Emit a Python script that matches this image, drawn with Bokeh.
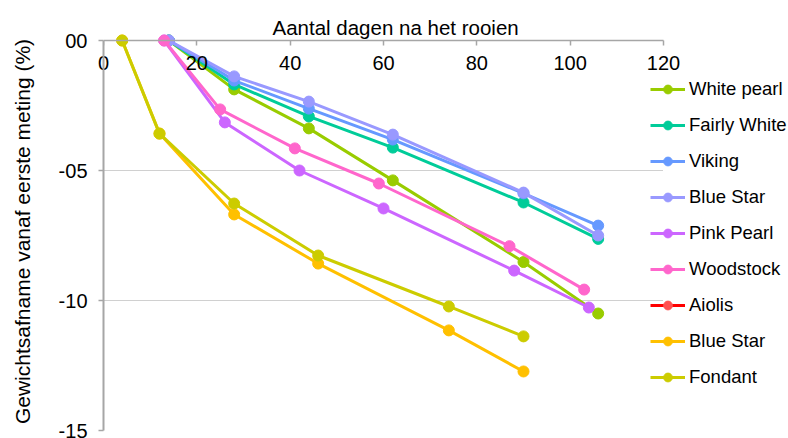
import numpy as np
from bokeh.plotting import figure
from bokeh.models import (Range1d, FixedTicker, Legend, LegendItem, ColumnDataSource,
                          LinearAxis, Title)
from bokeh.embed import file_html
from bokeh.resources import INLINE

# ---- data ----
x_ticks = [0, 20, 40, 60, 80, 100, 120]
y_ticks = [-15, -10, -5, 0]
y_tick_labels = ["-15", "-10", "-05", "00"]

series_names = ["White pearl", "Fairly White", "Viking", "Blue Star", "Pink Pearl",
                "Woodstock", "Aiolis", "Blue Star", "Fondant"]
line_colors = ["#99CC00", "#00CC99", "#6699FF", "#9999FF", "#CC66FF",
               "#FF66CC", "#FF0000", "#FFC000", "#CCCC00"]
marker_colors = ["#99CC00", "#00CC99", "#6699FF", "#9999FF", "#CC66FF",
                 "#FF66CC", "#FF5050", "#FFC000", "#CCCC00"]

days_white_pearl = [14, 28, 44, 62, 90, 106]
loss_white_pearl = [0, -1.88, -3.38, -5.38, -8.52, -10.5]
days_fairly_white = [14, 28, 44, 62, 90, 106]
loss_fairly_white = [0, -1.69, -2.92, -4.12, -6.23, -7.63]
days_viking = [14, 28, 44, 62, 90, 106]
loss_viking = [0, -1.54, -2.62, -3.81, -5.88, -7.12]
days_blue_star_1 = [14, 28, 44, 62, 90, 106]
loss_blue_star_1 = [0, -1.38, -2.35, -3.62, -5.85, -7.5]
days_pink_pearl = [13, 26, 42, 60, 88, 104]
loss_pink_pearl = [0, -3.15, -5.0, -6.46, -8.85, -10.27]
days_woodstock = [13, 25, 41, 59, 87, 103]
loss_woodstock = [0, -2.65, -4.15, -5.5, -7.91, -9.58]
days_aiolis = [np.nan]      # no measurements shown (legend entry only)
loss_aiolis = [np.nan]
days_blue_star_2 = [4, 12, 28, 46, 74, 90]
loss_blue_star_2 = [0, -3.58, -6.69, -8.58, -11.15, -12.73]
days_fondant = [4, 12, 28, 46, 74, 90]
loss_fondant = [0, -3.58, -6.27, -8.27, -10.23, -11.38]

all_days = [days_white_pearl, days_fairly_white, days_viking, days_blue_star_1,
            days_pink_pearl, days_woodstock, days_aiolis, days_blue_star_2, days_fondant]
all_loss = [loss_white_pearl, loss_fairly_white, loss_viking, loss_blue_star_1,
            loss_pink_pearl, loss_woodstock, loss_aiolis, loss_blue_star_2, loss_fondant]

FONT = "Liberation Sans"
TEXT = "#000000"
AXIS = "#A6A6A6"

X_MAX = 120
PX_PER_DAY = 560 / 120          # plot area 0..120 spans 560 px
x_end = X_MAX + 125 / PX_PER_DAY  # frame continues under the legend

p = figure(width=788, height=438, output_backend="svg", toolbar_location=None,
           x_range=Range1d(0, x_end), y_range=Range1d(-15, 0.3077),
           x_axis_location="above",
           min_border_left=103, min_border_right=0,
           min_border_top=32, min_border_bottom=8)
p.outline_line_color = None
p.background_fill_color = "white"
p.border_fill_color = "white"

# axis carrying tick labels (drawn below its line)
xa = p.xaxis[0]
xa.ticker = FixedTicker(ticks=x_ticks)
xa.bounds = (0, X_MAX)
xa.axis_line_color = None
xa.major_tick_line_color = None
xa.minor_tick_line_color = None
xa.major_tick_in = 0
xa.major_tick_out = 0
xa.major_label_standoff = -50
xa.major_label_text_font = FONT
xa.major_label_text_font_size = "20px"
xa.major_label_text_color = TEXT

# axis line and inward ticks at y = 0
xa0 = LinearAxis(fixed_location=0, ticker=FixedTicker(ticks=x_ticks), bounds=(0, X_MAX),
                 axis_line_color=AXIS, axis_line_width=1.5,
                 major_tick_line_color=AXIS, major_tick_line_width=1.5,
                 major_tick_in=5, major_tick_out=0, minor_tick_line_color=None,
                 major_label_standoff=0, major_label_text_font_size="0px",
                 major_label_text_alpha=0)

x_title = Title(text="Aantal dagen na het rooien", align="left", offset=169,
                standoff=-12, text_font=FONT, text_font_size="20.5px",
                text_font_style="normal", text_color=TEXT)

p.add_layout(xa0, "above")
p.above = [x_title] + list(p.above)

ya = p.yaxis[0]
ya.ticker = FixedTicker(ticks=y_ticks)
ya.major_label_overrides = {t: l for t, l in zip(y_ticks, y_tick_labels)}
ya.bounds = (-15, 0)
ya.major_tick_in = 0
ya.major_tick_out = 5
ya.minor_tick_line_color = None
ya.axis_line_color = AXIS
ya.axis_line_width = 2
ya.major_tick_line_color = AXIS
ya.major_tick_line_width = 1.5
ya.major_label_standoff = 11
ya.major_label_text_font = FONT
ya.major_label_text_font_size = "20px"
ya.major_label_text_color = TEXT
ya.axis_label = "Gewichtsafname vanaf eerste meting (%)"
ya.axis_label_standoff = 22
ya.axis_label_text_font = FONT
ya.axis_label_text_font_size = "21px"
ya.axis_label_text_font_style = "normal"
ya.axis_label_text_color = TEXT

p.xgrid.visible = False
g = p.ygrid[0]
g.ticker = FixedTicker(ticks=[-15, -10, -5])
g.grid_line_color = "#A0A0A0"
g.grid_line_dash = "1 1"
g.grid_line_width = 1
if "cross_bounds" in g.properties():
    g.cross_bounds = (0, X_MAX)

items = []
for name, lc, mc, d, v in zip(series_names, line_colors, marker_colors, all_days, all_loss):
    src = ColumnDataSource(data=dict(x=np.asarray(d, dtype=float), y=np.asarray(v, dtype=float)))
    r1 = p.line("x", "y", source=src, line_color=lc, line_width=3)
    r2 = p.scatter("x", "y", source=src, marker="circle", size=11,
                   fill_color=mc, line_color=mc)
    items.append(LegendItem(label=name, renderers=[r1, r2]))

legend = Legend(items=items, location=(547, 42), orientation="vertical",
                padding=0, margin=0, spacing=14,
                glyph_width=35, glyph_height=22, label_height=22,
                label_standoff=4,
                label_text_font=FONT, label_text_font_size="18.5px",
                label_text_color=TEXT,
                border_line_alpha=0, background_fill_alpha=0)
p.add_layout(legend)

open("out.html", "w").write(file_html(p, INLINE))
